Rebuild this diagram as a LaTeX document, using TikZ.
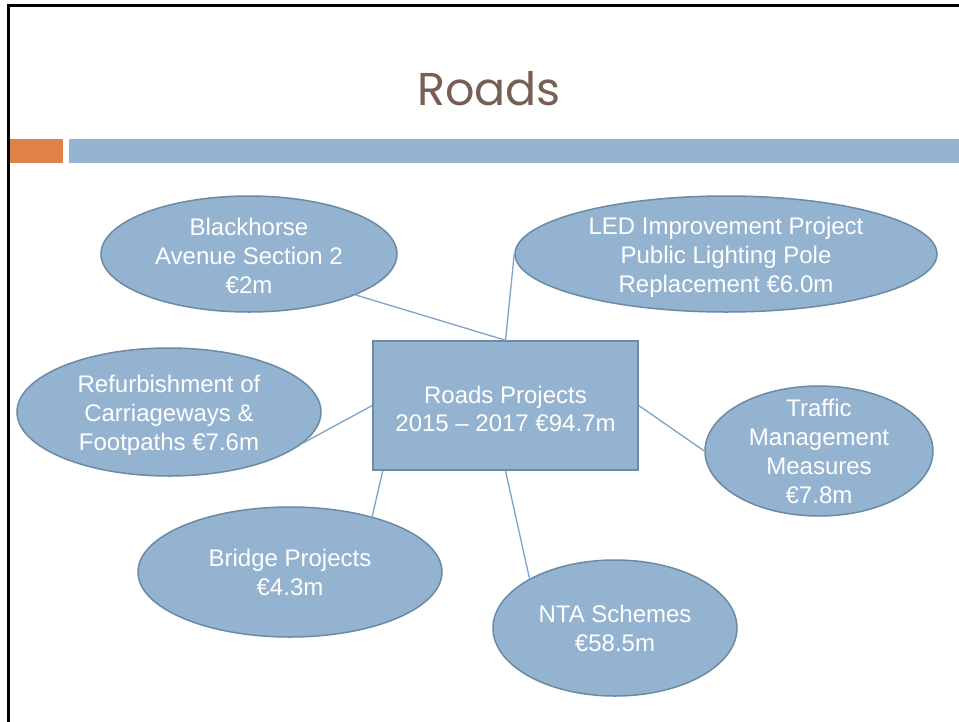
\documentclass[tikz,border=0pt]{standalone}
\usepackage{fontspec}
\setmainfont{Liberation Sans}
\newfontfamily\titlefont{Poppins}
\usetikzlibrary{shapes.geometric}
\definecolor{titlecol}{RGB}{119,95,85}
\definecolor{orangebar}{RGB}{223,129,73}
\definecolor{bluebar}{RGB}{148,180,210}
\definecolor{shapefill}{RGB}{148,179,209}
\definecolor{shapeline}{RGB}{106,138,166}
\definecolor{conline}{RGB}{125,163,204}
\tikzset{
  ellbox/.style={ellipse, draw=shapeline, fill=shapefill, line width=1.5pt, inner sep=0pt},
  rectbox/.style={rectangle, draw=shapeline, fill=shapefill, line width=1.5pt, inner sep=0pt},
  lbl/.style={text=white, align=center, font=\fontsize{24}{29}\selectfont},
  con/.style={draw=conline, line width=1.3pt}
}
\begin{document}
\begin{tikzpicture}[x=1pt,y=-1pt]
\useasboundingbox (0,0) rectangle (959,721);
\fill[white] (0,0) rectangle (959,721);
% slide frame
\draw[black, line width=2.6pt] (8.3,730) -- (8.3,5.7) -- (970,5.7);
% bars
\fill[orangebar] (9.5,139) rectangle (63,163);
\fill[bluebar] (69,139) rectangle (962,163);
% title
\node[anchor=base, text=titlecol, font=\titlefont\fontsize{46}{52}\selectfont, inner sep=0pt] (title) at (489,105) {Roads};
% shapes
\node[rectbox, minimum width=265pt, minimum height=129pt,
  label={[lbl, font=\fontsize{24}{28}\selectfont, yshift=-3pt]center:Roads Projects\\2015 – 2017 €94.7m}] (rect) at (505.5,405.5) {};
\node[ellbox, minimum width=296pt, minimum height=116pt, label={[lbl, yshift=-2pt]center:Blackhorse\\Avenue Section 2\\€2m}] (blk) at (249,254) {};
\node[ellbox, minimum width=422pt, minimum height=116pt, label={[lbl, yshift=-3pt]center:LED Improvement Project\\Public Lighting Pole\\Replacement €6.0m}] (led) at (726,254) {};
\node[ellbox, minimum width=304pt, minimum height=128pt, label={[lbl, yshift=-3pt]center:Refurbishment of\\Carriageways \&\\Footpaths €7.6m}] (ref) at (169,412) {};
\node[ellbox, minimum width=228pt, minimum height=130pt, label={[lbl]center:Traffic\\Management\\Measures\\€7.8m}] (tra) at (819,451) {};
\node[ellbox, minimum width=304pt, minimum height=130pt, label={[lbl]center:Bridge Projects\\€4.3m}] (bri) at (290,572) {};
\node[ellbox, minimum width=244pt, minimum height=136pt, label={[lbl]center:NTA Schemes\\€58.5m}] (nta) at (615,628) {};
% connectors
\draw[con] (blk.-21.4) -- (rect.north);
\draw[con] (led.west) -- (rect.north);
\draw[con] (ref.-13) -- (rect.west);
\draw[con] (rect.east) -- (tra.west);
\draw[con] (rect.208.6) -- (bri.34.5);
\draw[con] (rect.south) -- (nta.150);
\end{tikzpicture}
\end{document}
